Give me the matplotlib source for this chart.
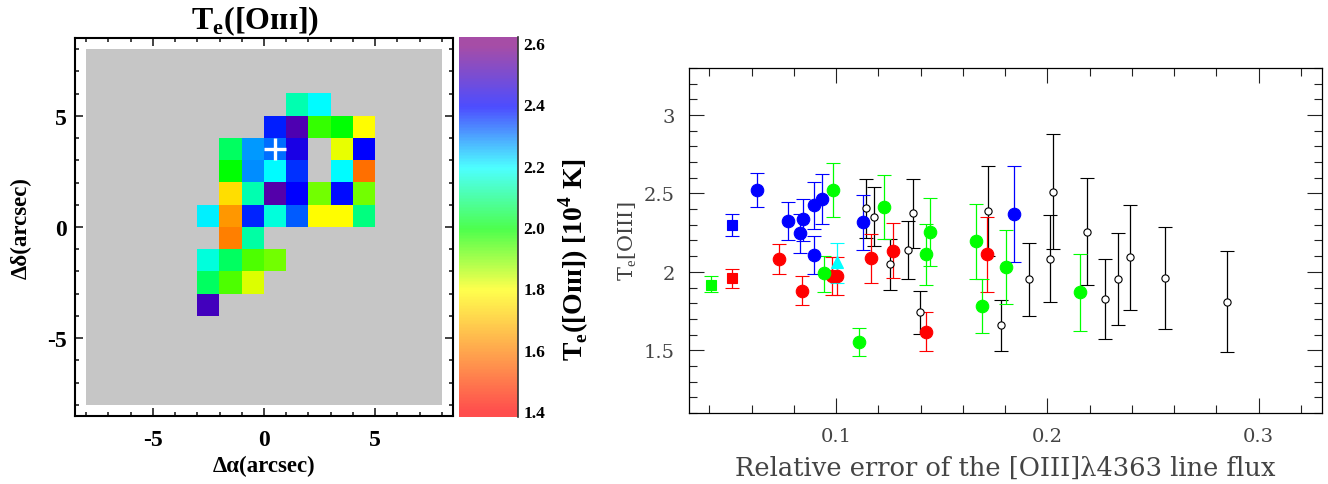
import numpy as np
import matplotlib
matplotlib.use("Agg")
import matplotlib.pyplot as plt
from matplotlib.colors import LinearSegmentedColormap, Normalize, to_rgb
from matplotlib.cm import ScalarMappable
from matplotlib.ticker import MultipleLocator, FixedLocator, FixedFormatter

nan = float("nan")

# temperature map, rows top to bottom (y 6..-4), columns left to right (x -3..5)
mapRows = [
    [nan, nan, nan, nan, 2.14, 2.20, nan, nan],
    [nan, nan, nan, 2.375, 2.52, 1.96, 2.00, 1.80],
    [nan, 2.075, 2.28, 2.31, 2.44, nan, 1.82, 2.40],
    [nan, 2.00, 2.29, 2.20, 2.36, nan, 2.20, 1.575],
    [nan, 1.75, 2.14, 2.53, 2.40, 1.91, 2.39, 1.91],
    [2.21, 1.64, 2.37, 2.17, 2.325, 1.80, 1.80, 2.10],
    [nan, 1.60, 2.13, nan, nan, nan, nan, nan],
    [2.17, 2.075, 1.94, 1.91, nan, nan, nan, nan],
    [2.075, 1.94, 1.83, nan, nan, nan, nan, nan],
    [2.50, nan, nan, nan, nan, nan, nan, nan],
]
crossX = [0.5]
crossY = [3.5]

cbarTicks = [1.4, 1.6, 1.8, 2.0, 2.2, 2.4, 2.6]
cbarColors = ["#ff0000", "#ff8000", "#ffff00", "#00ff00", "#00ffff", "#0000ff", "#800080"]

# right panel, one set of lists per colour
squareGreenX = [0.0408]
squareGreenY = [1.917]
squareGreenLo = [1.869]
squareGreenHi = [1.971]

squareRedX = [0.0507]
squareRedY = [1.958]
squareRedLo = [1.898]
squareRedHi = [2.017]

squareBlueX = [0.0507]
squareBlueY = [2.297]
squareBlueLo = [2.227]
squareBlueHi = [2.366]

blueX = [0.0626, 0.0773, 0.0844, 0.0828, 0.0897, 0.0935, 0.0897, 0.1129, 0.1842]
blueY = [2.525, 2.325, 2.334, 2.245, 2.427, 2.465, 2.108, 2.317, 2.372]
blueLo = [2.414, 2.204, 2.197, 2.119, 2.276, 2.306, 1.987, 2.138, 2.066]
blueHi = [2.633, 2.446, 2.463, 2.366, 2.576, 2.627, 2.227, 2.493, 2.673]

redX = [0.0728, 0.0836, 0.098, 0.1005, 0.1167, 0.127, 0.1425, 0.1716]
redY = [2.081, 1.879, 1.973, 1.973, 2.087, 2.136, 1.618, 2.111]
redLo = [1.987, 1.786, 1.852, 1.852, 1.926, 1.958, 1.495, 1.873]
redHi = [2.175, 1.971, 2.092, 2.092, 2.24, 2.312, 1.741, 2.348]

greenX = [0.094, 0.0984, 0.1109, 0.1226, 0.1442, 0.1427, 0.166, 0.1689, 0.1804, 0.2153]
greenY = [1.99, 2.52, 1.55, 2.412, 2.253, 2.111, 2.194, 1.783, 2.032, 1.869]
greenLo = [1.873, 2.348, 1.463, 2.21, 2.036, 1.915, 1.952, 1.608, 1.796, 1.62]
greenHi = [2.104, 2.692, 1.639, 2.62, 2.468, 2.306, 2.433, 1.955, 2.264, 2.115]

triX = [0.1006]
triY = [2.064]
triLo = [1.928]
triHi = [2.185]

openX = [0.1139, 0.1177, 0.1254, 0.134, 0.1362, 0.1397, 0.172, 0.1782, 0.1911,
         0.2027, 0.2014, 0.2188, 0.2273, 0.2332, 0.239, 0.2559, 0.2852]
openY = [2.406, 2.35, 2.047, 2.138, 2.376, 1.743, 2.387, 1.659, 1.953,
         2.512, 2.085, 2.257, 1.83, 1.953, 2.096, 1.958, 1.809]
openLo = [2.217, 2.162, 1.885, 1.952, 2.155, 1.601, 2.10, 1.495, 1.716,
          2.145, 1.807, 1.915, 1.571, 1.662, 1.758, 1.633, 1.489]
openHi = [2.589, 2.541, 2.21, 2.325, 2.595, 1.879, 2.673, 1.82, 2.187,
          2.877, 2.361, 2.601, 2.083, 2.246, 2.427, 2.283, 2.132]

W, H = 1328, 485
plt.rcParams["axes.unicode_minus"] = False
plt.rcParams["mathtext.fontset"] = "custom"
plt.rcParams["mathtext.rm"] = "Liberation Serif"
plt.rcParams["mathtext.bf"] = "Liberation Serif:bold"
serif = ["Liberation Serif", "DejaVu Serif"]


def boxAxes(left, top, right, bottom):
    return fig.add_axes([left / W, 1 - bottom / H, (right - left) / W, (bottom - top) / H])


fig = plt.figure(figsize=(W / 100, H / 100), dpi=100)

# colormap with flat ends, the colorbar runs a bit past 1.4 and 2.6
vMin, vMax = 1.38, 2.62
anchors = [(0.0, cbarColors[0])]
for v, c in zip(cbarTicks, cbarColors):
    anchors.append(((v - vMin) / (vMax - vMin), c))
anchors.append((1.0, cbarColors[-1]))
cmap = LinearSegmentedColormap.from_list("te", anchors, N=256)
cmap.set_bad("#c6c6c6")
norm = Normalize(vMin, vMax)

# the bar itself is paler than the map
paleAnchors = [(p, tuple(0.7 * ch + 0.3 for ch in to_rgb(c))) for p, c in anchors]
cmapPale = LinearSegmentedColormap.from_list("tePale", paleAnchors, N=256)

# left map
grid = np.full((16, 16), nan)
grid[2:12, 5:13] = np.array(mapRows)

axMap = boxAxes(75, 39, 453, 417)
axMap.imshow(grid, cmap=cmap, norm=norm, extent=(-8, 8, -8, 8), interpolation="nearest", aspect="auto")
axMap.plot(crossX, crossY, "+", color="white", markersize=16, markeredgewidth=2.4)
axMap.set_xlim(-8.5, 8.5)
axMap.set_ylim(-8.5, 8.5)
axMap.xaxis.set_major_locator(MultipleLocator(5))
axMap.yaxis.set_major_locator(MultipleLocator(5))
axMap.xaxis.set_minor_locator(MultipleLocator(1))
axMap.yaxis.set_minor_locator(MultipleLocator(1))
axMap.tick_params(which="both", direction="in", top=True, right=True, width=1.2, color="#222222")
axMap.tick_params(which="major", length=6, labelsize=17, pad=9)
axMap.tick_params(axis="y", which="major", pad=6)
axMap.tick_params(which="minor", length=3)
for lab in axMap.get_xticklabels() + axMap.get_yticklabels():
    lab.set_family(serif)
    lab.set_fontweight("bold")
for sp in axMap.spines.values():
    sp.set_linewidth(1.5)
axMap.set_xlabel("Δα(arcsec)", family=serif, fontweight="bold", fontsize=16.5, labelpad=4)
axMap.set_ylabel("Δδ(arcsec)", family=serif, fontweight="bold", fontsize=16.5, labelpad=11)
axMap.set_title(r"T$_{\mathbf{e}}$([Oɪɪɪ])", family=serif, fontweight="bold", fontsize=23, pad=7, x=0.476)

# colorbar
axBar = boxAxes(459, 38, 518, 418)
bar = fig.colorbar(ScalarMappable(norm=norm, cmap=cmapPale), cax=axBar)
bar.solids.set_edgecolor("face")
bar.set_ticks(cbarTicks)
bar.set_ticklabels(["%.1f" % t for t in cbarTicks])
bar.ax.tick_params(length=0, pad=4, labelsize=12.5)
for lab in bar.ax.get_yticklabels():
    lab.set_family(serif)
    lab.set_fontweight("bold")
bar.outline.set_visible(False)
bar.ax.axvline(1.0, color="#333333", linewidth=1.2, clip_on=False)
bar.set_label(r"T$_{\mathbf{e}}$([Oɪɪɪ]) [10$^{\mathbf{4}}$ K]", family=serif, fontweight="bold",
              fontsize=20, labelpad=8, y=0.416)

# right scatter
axErr = boxAxes(689, 69, 1322, 414)


def drawSeries(x, y, lo, hi, color, marker, size, face=None):
    x, y, lo, hi = map(np.array, (x, y, lo, hi))
    if face is None:
        face = color
    axErr.errorbar(x, y, yerr=[y - lo, hi - y], fmt=marker, color=color, markersize=size,
                   markerfacecolor=face, markeredgecolor=color, markeredgewidth=0.8,
                   elinewidth=0.9, capsize=5)


drawSeries(openX, openY, openLo, openHi, "black", "o", 5.2, face="white")
drawSeries(blueX, blueY, blueLo, blueHi, "#0000ff", "o", 9)
drawSeries(squareBlueX, squareBlueY, squareBlueLo, squareBlueHi, "#0000ff", "s", 7.5)
drawSeries(redX, redY, redLo, redHi, "#ff0000", "o", 9)
drawSeries(squareRedX, squareRedY, squareRedLo, squareRedHi, "#ff0000", "s", 7.5)
drawSeries(greenX, greenY, greenLo, greenHi, "#00ff00", "o", 9)
drawSeries(squareGreenX, squareGreenY, squareGreenLo, squareGreenHi, "#00ff00", "s", 7.5)
drawSeries(triX, triY, triLo, triHi, "#00ffff", "^", 9)

axErr.set_xlim(0.0303, 0.33)
axErr.set_ylim(1.1, 3.3)
axErr.xaxis.set_major_locator(FixedLocator([0.1, 0.2, 0.3]))
axErr.xaxis.set_major_formatter(FixedFormatter(["0.1", "0.2", "0.3"]))
axErr.yaxis.set_major_locator(FixedLocator([1.5, 2, 2.5, 3]))
axErr.yaxis.set_major_formatter(FixedFormatter(["1.5", "2", "2.5", "3"]))
axErr.xaxis.set_minor_locator(MultipleLocator(0.02))
axErr.yaxis.set_minor_locator(MultipleLocator(0.1))
axErr.tick_params(which="both", direction="in", top=True, right=True, width=0.8, color="#222222")
axErr.tick_params(which="major", length=11, labelsize=14, pad=10, labelcolor="#444444")
axErr.tick_params(which="minor", length=5.5)
for lab in axErr.get_xticklabels() + axErr.get_yticklabels():
    lab.set_family("DejaVu Serif")
for sp in axErr.spines.values():
    sp.set_linewidth(0.9)
axErr.set_xlabel(r"Relative error of the [OIII]λ4363 line flux", family="DejaVu Serif",
                 fontsize=18.5, color="#444444", labelpad=7)
axErr.set_ylabel(r"T$_{\rm e}$[OIII]", family="DejaVu Serif", fontsize=15,
                 color="#444444", labelpad=4, y=0.5)

fig.savefig("out.png", dpi=100)
